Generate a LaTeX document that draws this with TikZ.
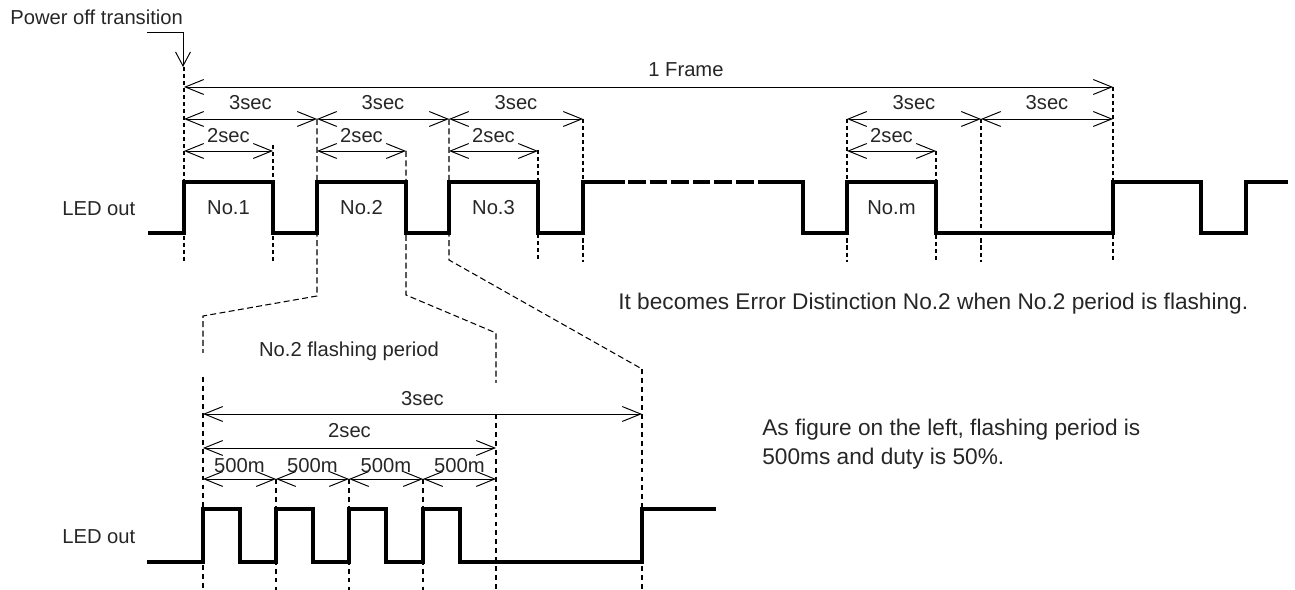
\documentclass[tikz,border=0pt]{standalone}
\usepackage{fontspec}
\setmainfont{Liberation Sans}
\usetikzlibrary{arrows.meta}
\tikzset{
  wave/.style={line width=2.3pt},
  guide/.style={line width=0.6pt, dash pattern=on 2.3pt off 1.7pt},
  guidebold/.style={line width=1.1pt, dash pattern=on 2.8pt off 2.3pt},
  zoomline/.style={line width=0.6pt, dash pattern=on 3.4pt off 1.9pt},
  dim/.style={line width=0.55pt, {Straight Barb[length=10.5pt,width=8.5pt]}-{Straight Barb[length=10.5pt,width=8.5pt]}},
  lbl/.style={inner sep=0pt, text=black!85, font=\fontsize{11.5}{13.8}\selectfont},
  note/.style={lbl, anchor=base west, font=\fontsize{12.9}{15.5}\selectfont},
}
\begin{document}
\begin{tikzpicture}[x=0.02cm, y=-0.02cm]
\useasboundingbox (0,0) rectangle (1295,590);
% power off marker
\node[lbl, anchor=base west] (poweroff) at (10,25) {Power off transition};
\draw[line width=0.55pt, -{Straight Barb[length=8pt,width=8.5pt]}] (147,32) -- (183,32) -- (183,67);
% upper waveform
\draw[wave] (148,233) -- (184,233) |- (273,182) |- (317,233) |- (406,182) |- (449,233) |- (538,182) |- (583,233) |- (625,182);
\draw[wave, dash pattern=on 10pt off 2.3pt] (628,182) -- (759,182);
\draw[wave] (759,182) -- (803,182) |- (847,233) |- (936,182) |- (1113,233) |- (1201,182) |- (1246,233) |- (1288,182);
\foreach \x/\t in {184/67,273/145,538/150,583/119,847/119,936/151,981/119,1113/87} \draw[guide] (\x,\t) -- (\x,262);
\node[lbl, anchor=base west] (ledtop) at (62,216) {LED out};
\foreach \x/\n in {228.5/1,361.5/2,493.5/3,891.5/m} \node[lbl] (no\n) at (\x,208) {No.\n};
% dimensions, upper
\draw[dim] (184,87) -- (1113,87);
\node[lbl, anchor=base west] (frame) at (648,77) {1 Frame};
\foreach \a/\b in {184/317,317/449,449/583,847/981,981/1113} \draw[dim] (\a,119) -- node[lbl, above=5pt] (three\a) {3sec} (\b,119);
\foreach \a/\b in {184/273,317/406,449/538,847/936} \draw[dim] (\a,151) -- node[lbl, above=4.6pt] (two\a) {2sec} (\b,151);
% zoom lines
\draw[zoomline] (317,119) -- (317,296) -- (203,316) -- (203,353);
\draw[zoomline] (406,151) -- (406,295) -- (496,333) -- (496,383);
\draw[zoomline] (449,119) -- (449,260) -- (642,369);
\node[lbl, anchor=base] (flash) at (349,357) {No.2 flashing period};
\node[note] (note1) at (618,310) {It becomes Error Distinction No.2 when No.2 period is flashing.};
\node[note] (note2) at (762,436) {As figure on the left, flashing period is};
\node[note] (note3) at (762,465) {500ms and duty is 50\%.};
% lower waveform
\draw[wave] (147,562) -- (203,562) |- (240,509) |- (276,562) |- (313,509) |- (349,562) |- (386,509) |- (423,562) |- (460,509) |- (642,562) |- (716,509);
\foreach \x/\t in {203/377,276/479,349/479,423/479,496/414,642/369} \draw[guidebold] (\x,\t) -- (\x,590);
\node[lbl, anchor=base west] (ledbot) at (62,544) {LED out};
\draw[dim] (203,414) -- node[lbl, above=4.6pt] (threelow) {3sec} (642,414);
\draw[dim] (203,448) -- node[lbl, above=5.6pt] (twolow) {2sec} (496,448);
\foreach \a/\b in {203/276,276/349,349/423,423/496} \draw[dim] (\a,479) -- node[lbl, above=3.4pt] (half\a) {500m} (\b,479);
\end{tikzpicture}
\end{document}
